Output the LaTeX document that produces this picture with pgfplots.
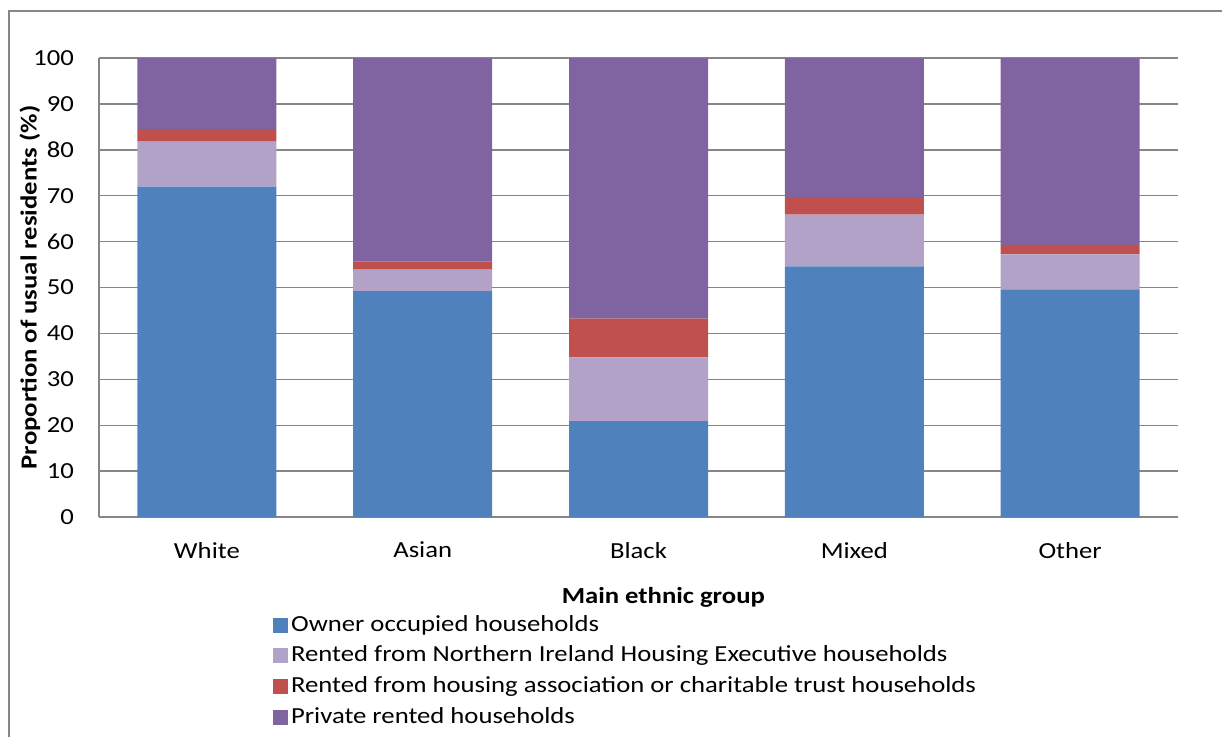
\documentclass[border=0pt]{standalone}
\usepackage{pgfplots}
\pgfplotsset{compat=1.18}
\usepackage{fontspec}
\setmainfont{Carlito}[FakeStretch=1.16]
\definecolor{cBlue}{HTML}{4F81BD}
\definecolor{cLilac}{HTML}{B2A2C7}
\definecolor{cRed}{HTML}{C0504D}
\definecolor{cPurple}{HTML}{8064A2}
\definecolor{cGrid}{HTML}{868686}
\begin{document}
\begin{tikzpicture}
\useasboundingbox (0,0) rectangle (611pt,-368pt);
\draw[cGrid, line width=0.75pt] (4.5pt,-400pt) -- (4.5pt,-5.5pt) -- (640pt,-5.5pt);
\begin{axis}[
  at={(49.5pt,-258.5pt)}, anchor=south west,
  scale only axis, width=539.5pt, height=229.5pt,
  ybar stacked, bar width=69.5pt,
  xmin=-0.5, xmax=4.5, ymin=0, ymax=100,
  xtick={0,1,2,3,4},
  xticklabels={White,Asian,Black,Mixed,Other},
  ytick={0,10,...,100},
  axis x line*=bottom, axis y line*=left,
  axis line style={cGrid, line width=0.7pt},
  ymajorgrids, grid style={cGrid, line width=0.7pt},
  major tick length=0pt,
  tick label style={font=\fontsize{11.5}{13}\selectfont},
  /pgf/number format/assume math mode=true,
  yticklabel style={xshift=-9pt},
  xticklabel style={yshift=-9pt},
  ylabel={Proportion of usual residents (\%)},
  ylabel style={at={(axis description cs:-0.064,0.5)}, anchor=center, rotate=0, font=\fontsize{11.5}{13}\selectfont\bfseries},
  xlabel={Main ethnic group},
  xlabel style={at={(axis description cs:0.523,-0.175)}, anchor=center, font=\fontsize{11.5}{13}\selectfont\bfseries},
  legend cell align=left,
  legend style={at={(axis description cs:0.161,-0.209)}, anchor=north west,
    draw=none, fill=none, inner sep=0pt, row sep=3.3pt, column sep=0pt,
    font=\fontsize{11.5}{13}\selectfont,
    nodes={inner ysep=0pt, inner xsep=1.5pt, text height=9pt, text depth=3pt}},
  legend image code/.code={\fill[#1] (0pt,-3.75pt) rectangle (7.5pt,3.75pt);},
]
\addplot[fill=cBlue, draw=none] coordinates {(0,72.0) (1,49.2) (2,20.9) (3,54.6) (4,49.6)};
\addplot[fill=cLilac, draw=none] coordinates {(0,9.8) (1,4.7) (2,13.9) (3,11.3) (4,7.6)};
\addplot[fill=cRed, draw=none] coordinates {(0,2.7) (1,1.8) (2,8.4) (3,3.6) (4,2.1)};
\addplot[fill=cPurple, draw=none] coordinates {(0,15.5) (1,44.3) (2,56.8) (3,30.5) (4,40.7)};
\legend{Owner occupied households,Rented from Northern Ireland Housing Executive households,Rented from housing association or charitable trust households,Private rented households}
\end{axis}
\end{tikzpicture}
\end{document}
